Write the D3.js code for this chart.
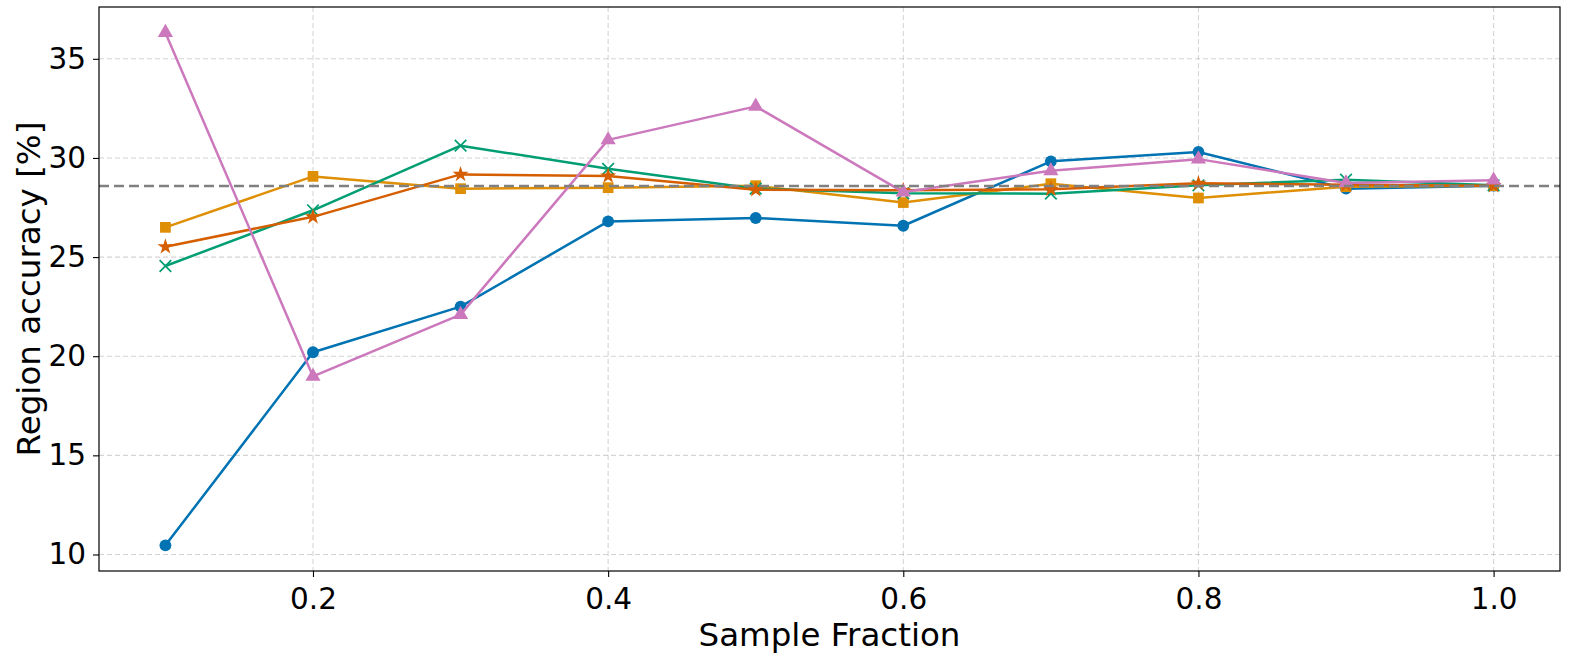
<!DOCTYPE html>
<html>
<head>
<meta charset="utf-8">
<script src="https://cdn.jsdelivr.net/npm/d3@7"></script>
<style>
  html, body { margin: 0; padding: 0; background: #fff; overflow: hidden; }
  svg { display: block; font-family: "DejaVu Sans", sans-serif; }
</style>
</head>
<body>
<svg id="chart" width="1578" height="660"></svg>
<script>
const fractions = [0.1, 0.2, 0.3, 0.4, 0.5, 0.6, 0.7, 0.8, 0.9, 1.0];
const seriesCircle   = [10.46, 20.2, 22.5, 26.8, 26.97, 26.58, 29.83, 30.3, 28.45, 28.6];
const seriesSquare   = [26.5, 29.07, 28.45, 28.5, 28.6, 27.75, 28.7, 27.98, 28.55, 28.6];
const seriesX        = [24.55, 27.36, 30.62, 29.45, 28.45, 28.22, 28.2, 28.62, 28.9, 28.62];
const seriesStar     = [25.52, 27.03, 29.17, 29.09, 28.4, 28.37, 28.42, 28.72, 28.65, 28.6];
const seriesTriangle = [36.32, 18.98, 22.1, 30.91, 32.6, 28.28, 29.35, 29.94, 28.74, 28.88];
const baseline = 28.58;
const xTicks = [0.2, 0.4, 0.6, 0.8, 1.0];
const yTicks = [10, 15, 20, 25, 30, 35];
const xLabel = "Sample Fraction";
const yLabel = "Region accuracy [%]";

const series = [
  { values: seriesCircle,   color: "#0173b2", marker: "circle" },
  { values: seriesSquare,   color: "#de8f05", marker: "square" },
  { values: seriesX,        color: "#029e73", marker: "x" },
  { values: seriesStar,     color: "#d55e00", marker: "star" },
  { values: seriesTriangle, color: "#cc78bc", marker: "triangle" }
];

const svg = d3.select("#chart");
const m = { left: 99, right: 18, top: 7, bottom: 89 };
const W = 1578, H = 660;
const pw = W - m.left - m.right, ph = H - m.top - m.bottom;

const allVals = series.flatMap(s => s.values);
const ymin = d3.min(allVals), ymax = d3.max(allVals);
const ypad = (ymax - ymin) * 0.05;
const xpad = (1.0 - 0.1) * 0.05;

const x = d3.scaleLinear().domain([0.1 - xpad, 1.0 + xpad]).range([m.left, m.left + pw]);
const y = d3.scaleLinear().domain([ymin - ypad, ymax + ypad]).range([m.top + ph, m.top]);

// grid
const grid = svg.append("g");
grid.selectAll("line.gx").data(xTicks).join("line")
  .attr("x1", d => x(d)).attr("x2", d => x(d))
  .attr("y1", m.top).attr("y2", m.top + ph)
  .attr("stroke", "#b0b0b0").attr("stroke-opacity", 0.55)
  .attr("stroke-width", 1.1).attr("stroke-dasharray", "5,3");
grid.selectAll("line.gy").data(yTicks).join("line")
  .attr("x1", m.left).attr("x2", m.left + pw)
  .attr("y1", d => y(d)).attr("y2", d => y(d))
  .attr("stroke", "#b0b0b0").attr("stroke-opacity", 0.55)
  .attr("stroke-width", 1.1).attr("stroke-dasharray", "5,3");

// axes
const xAxis = svg.append("g").attr("transform", `translate(0,${m.top + ph})`)
  .call(d3.axisBottom(x).tickValues(xTicks).tickFormat(d3.format(".1f")).tickSize(6).tickPadding(11));
const yAxis = svg.append("g").attr("transform", `translate(${m.left},0)`)
  .call(d3.axisLeft(y).tickValues(yTicks).tickFormat(d3.format("d")).tickSize(6).tickPadding(7));
[xAxis, yAxis].forEach(a => {
  a.select(".domain").remove();
  a.selectAll(".tick line").attr("stroke", "#000").attr("stroke-width", 1.1);
  a.selectAll(".tick text").attr("font-size", 29.5).attr("fill", "#000")
    .attr("font-family", "DejaVu Sans, sans-serif");
});

// lines + markers
const line = d3.line().x((d, i) => x(fractions[i])).y(d => y(d));
const plot = svg.append("g");
const sym = {
  circle: d3.symbol().type(d3.symbolCircle).size(110),
  square: d3.symbol().type(d3.symbolSquare).size(115),
  star: d3.symbol().type(d3.symbolStar).size(80),
  triangle: d3.symbol().type(d3.symbolTriangle).size(100)
};
series.forEach(s => {
  plot.append("path").datum(s.values).attr("d", line)
    .attr("fill", "none").attr("stroke", s.color).attr("stroke-width", 2.5)
    .attr("stroke-linejoin", "round");
  const g = plot.append("g");
  s.values.forEach((v, i) => {
    const cx = x(fractions[i]), cy = y(v);
    if (s.marker === "x") {
      const r = 5.8;
      g.append("path")
        .attr("d", `M${cx - r},${cy - r}L${cx + r},${cy + r}M${cx - r},${cy + r}L${cx + r},${cy - r}`)
        .attr("stroke", s.color).attr("stroke-width", 1.7).attr("fill", "none");
    } else {
      g.append("path").attr("d", sym[s.marker]())
        .attr("transform", `translate(${cx},${cy})`)
        .attr("fill", s.color);
    }
  });
});

// baseline dashed
svg.append("line")
  .attr("x1", m.left).attr("x2", m.left + pw)
  .attr("y1", y(baseline)).attr("y2", y(baseline))
  .attr("stroke", "#808080").attr("stroke-width", 2.5).attr("stroke-dasharray", "10,5");

// frame
svg.append("rect").attr("x", m.left).attr("y", m.top).attr("width", pw).attr("height", ph)
  .attr("fill", "none").attr("stroke", "#000").attr("stroke-width", 1.2);

// labels
svg.append("text").attr("x", m.left + pw / 2).attr("y", 646)
  .attr("text-anchor", "middle").attr("font-size", 32.5).attr("fill", "#000").text(xLabel);
svg.append("text").attr("transform", `translate(40,${m.top + ph / 2}) rotate(-90)`)
  .attr("text-anchor", "middle").attr("font-size", 32.5).attr("fill", "#000").text(yLabel);
</script>
</body>
</html>
